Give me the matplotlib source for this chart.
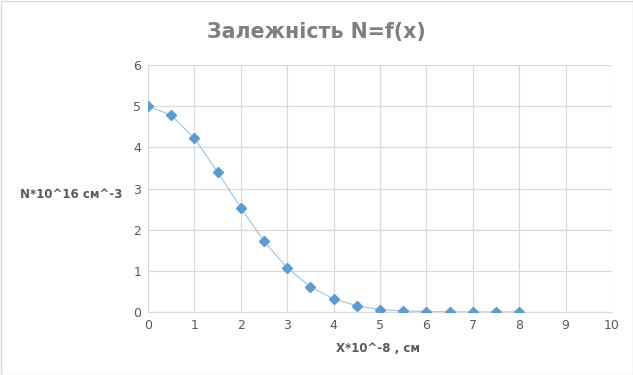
import matplotlib
matplotlib.use("Agg")
import matplotlib.pyplot as plt
from matplotlib.patches import Rectangle

x_vals = [0, 0.5, 1, 1.5, 2, 2.5, 3, 3.5, 4, 4.5, 5, 5.5, 6, 6.5, 7, 7.5, 8]
n_vals = [5.0, 4.78, 4.22, 3.40, 2.53, 1.72, 1.07, 0.61, 0.32, 0.15, 0.06, 0.03, 0.01, 0.005, 0.0, 0.0, 0.0]
title = "Залежність N=f(x)"
xlabel = "X*10^-8 , см"
ylabel = "N*10^16 см^-3"
xticks = [0, 1, 2, 3, 4, 5, 6, 7, 8, 9, 10]
yticks = [0, 1, 2, 3, 4, 5, 6]

plt.rcParams['font.family'] = ['DejaVu Sans']

W, H = 633, 375
fig = plt.figure(figsize=(W / 100, H / 100), dpi=100)
ax = fig.add_axes([148 / W, 1 - 312 / H, (612 - 148) / W, (312 - 65) / H])

ax.plot(x_vals, n_vals, color="#9DC3E6", linewidth=0.8, zorder=3,
        marker="D", markersize=5, markerfacecolor="#5B9BD5", markeredgecolor="#5B9BD5")

ax.set_xlim(0, 10)
ax.set_ylim(0, 6)
ax.set_xticks(xticks)
ax.set_yticks(yticks)
ax.grid(True, color="#D9D9D9", linewidth=0.9)
ax.set_axisbelow(True)
for s in ["top", "right", "left"]:
    ax.spines[s].set_visible(False)
ax.spines["bottom"].set_color("#D9D9D9")
ax.tick_params(length=0, labelsize=9, colors="#595959", pad=5)

fig.text(316 / W, 1 - 32 / H, title, ha="center", va="center", fontsize=14.8,
         fontweight="bold", color="#7F7F7F")
fig.text(71 / W, 1 - 194 / H, ylabel, ha="center", va="center", fontsize=8.5,
         fontweight="bold", color="#595959")
fig.text(378 / W, 1 - 348 / H, xlabel, ha="center", va="center", fontsize=8.5,
         fontweight="bold", color="#595959")

fig.patches.append(Rectangle((0.5 / W, 0.5 / H), 1 - 1 / W, 1 - 1 / H, transform=fig.transFigure,
                             fill=False, edgecolor="#D9D9D9", linewidth=1))

fig.savefig("out.png", dpi=100, facecolor="white")
